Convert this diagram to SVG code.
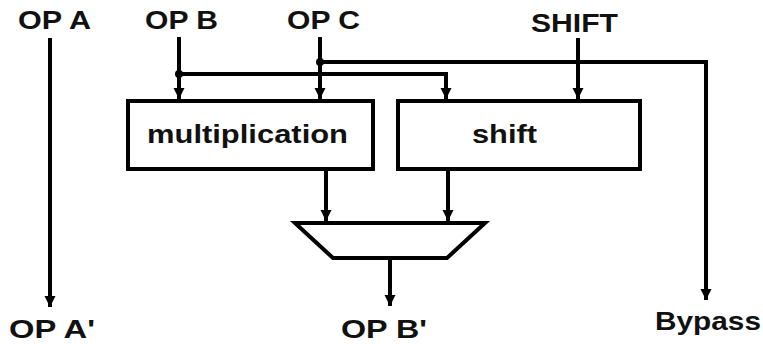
<svg xmlns="http://www.w3.org/2000/svg" width="763" height="344" viewBox="0 0 763 344">
<style>
.lbl{font-family:"Liberation Sans",Arial,sans-serif;font-weight:bold;font-size:26px;fill:#111}
.box{fill:#fff;stroke:#000;stroke-width:4}
.ln{fill:none;stroke:#000;stroke-width:4}
</style>
<defs>
<marker id="ah" markerUnits="userSpaceOnUse" markerWidth="14" markerHeight="12" refX="11" refY="6" orient="auto">
<path d="M0,0.5 L11,6 L0,11.5 Z" fill="#000"/>
</marker>
</defs>
<rect width="763" height="344" fill="#fff"/>
<g id="connectors">
<path class="ln" d="M50,38 V307" marker-end="url(#ah)"/>
<path class="ln" d="M179,37 V99" marker-end="url(#ah)"/>
<path class="ln" d="M179,74 H446 V99" marker-end="url(#ah)"/>
<path class="ln" d="M320,37 V99" marker-end="url(#ah)"/>
<path class="ln" d="M320,62 H706 V300" marker-end="url(#ah)"/>
<path class="ln" d="M578,38 V99" marker-end="url(#ah)"/>
<path class="ln" d="M326,169 V221" marker-end="url(#ah)"/>
<path class="ln" d="M448,170 V221" marker-end="url(#ah)"/>
<path class="ln" d="M390,258 V306" marker-end="url(#ah)"/>
<circle cx="179" cy="74" r="4" fill="#000"/>
<circle cx="320" cy="62" r="4" fill="#000"/>
</g>
<g id="opA"><text class="lbl" x="18" y="29" textLength="73" lengthAdjust="spacingAndGlyphs">OP A</text></g>
<g id="opB"><text class="lbl" x="145" y="29" textLength="73" lengthAdjust="spacingAndGlyphs">OP B</text></g>
<g id="opC"><text class="lbl" x="287" y="29" textLength="73" lengthAdjust="spacingAndGlyphs">OP C</text></g>
<g id="shiftIn"><text class="lbl" x="531" y="32" textLength="87" lengthAdjust="spacingAndGlyphs">SHIFT</text></g>
<g id="multiplication">
<rect class="box" x="128" y="101" width="245" height="68"/>
<text class="lbl" x="147" y="143" font-size="30" textLength="201" lengthAdjust="spacingAndGlyphs">multiplication</text>
</g>
<g id="shift">
<rect class="box" x="398" y="101" width="242" height="68"/>
<text class="lbl" x="472" y="143" font-size="30" textLength="65" lengthAdjust="spacingAndGlyphs">shift</text>
</g>
<g id="mux">
<path class="box" d="M295,223 L485,223 L447,258 L333,258 Z"/>
</g>
<g id="opA2"><text class="lbl" x="9" y="338" textLength="86" lengthAdjust="spacingAndGlyphs">OP A'</text></g>
<g id="opB2"><text class="lbl" x="341" y="338" textLength="86" lengthAdjust="spacingAndGlyphs">OP B'</text></g>
<g id="bypass"><text class="lbl" x="655" y="330" textLength="106" lengthAdjust="spacingAndGlyphs">Bypass</text></g>
</svg>
